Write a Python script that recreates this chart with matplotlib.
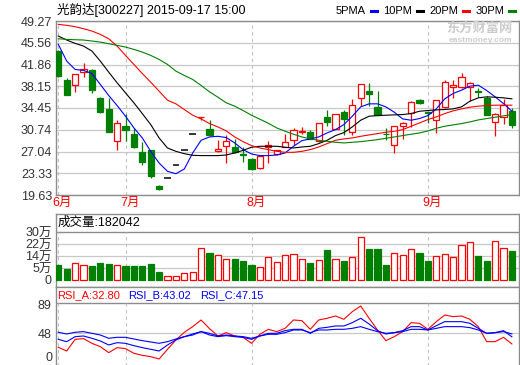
import numpy as np
import matplotlib
matplotlib.use("Agg")
import matplotlib.pyplot as plt
from matplotlib.lines import Line2D

plt.rcParams['font.family'] = ['Liberation Sans', 'Noto Sans CJK SC']

# ---- daily K-line data (2015-06-18 .. 2015-09-17) ----
opens = [44.15, 39.14, 38.34, 40.56, 40.85, 36.07, 34.36, 28.84, 31.45, 30.09,
         26.96, 27.36, 21.19, 22.52, 24.74, 27.30, 30.03, 32.90, 30.94, 27.07,
         28.04, 27.86, 26.55, 25.79, 24.23, 27.87, 26.62, 27.81, 29.01, 30.35,
         30.32, 28.78, 32.94, 30.89, 33.73, 30.32, 36.18, 37.37, 34.59, 30.05,
         28.10, 31.46, 33.62, 35.88, 33.75, 32.48, 34.59, 38.10, 37.99, 38.06,
         37.36, 36.07, 32.03, 32.88, 33.90]
highs = [44.30, 39.60, 40.30, 42.04, 41.02, 36.25, 36.07, 32.48, 33.45, 31.06,
         28.67, 27.36, 21.38, 22.52, 24.74, 27.30, 30.03, 32.94, 32.48, 29.07,
         29.92, 29.18, 27.76, 25.90, 26.50, 28.83, 27.36, 30.03, 31.06, 31.23,
         30.66, 31.90, 34.19, 33.45, 34.07, 35.90, 38.60, 38.63, 37.32, 31.06,
         31.34, 32.10, 35.60, 36.00, 33.90, 35.80, 39.14, 39.14, 40.33, 38.80,
         37.90, 36.46, 33.62, 36.01, 34.47]
lows = [39.80, 36.60, 37.15, 39.77, 37.03, 33.62, 30.30, 27.24, 28.78, 27.70,
        24.80, 22.52, 20.41, 22.52, 24.74, 27.30, 30.03, 32.37, 29.63, 27.00,
        25.08, 26.80, 25.19, 23.83, 24.00, 25.08, 26.50, 27.81, 28.21, 30.00,
        29.10, 28.70, 31.46, 30.80, 29.92, 29.92, 34.76, 34.87, 33.30, 29.06,
        26.79, 29.18, 31.23, 35.20, 31.91, 30.20, 34.50, 36.18, 37.90, 35.60,
        36.35, 33.30, 29.63, 31.80, 31.06]
closes = [39.88, 36.63, 40.28, 41.02, 37.49, 33.73, 30.32, 31.86, 30.77, 27.74,
          25.26, 22.81, 20.61, 22.52, 24.74, 27.30, 30.03, 32.94, 29.80, 27.47,
          28.78, 27.00, 26.45, 24.08, 26.34, 28.21, 27.30, 28.61, 30.77, 30.45,
          29.18, 31.85, 32.03, 33.39, 32.65, 34.93, 38.57, 36.92, 33.33, 29.98,
          31.34, 31.91, 35.44, 35.31, 33.62, 35.78, 38.91, 38.30, 39.71, 38.63,
          37.25, 33.33, 33.51, 34.93, 31.63]

ma5 = [45.29, 42.44, 41.02, 40.85, 40.33, 38.46, 36.58, 34.87, 33.05, 31.06,
       29.35, 27.07, 25.08, 23.66, 23.26, 24.06, 26.79, 28.95, 29.52, 29.63,
       29.41, 28.50, 27.36, 26.62, 26.34, 26.34, 26.45, 26.79, 27.93, 28.89,
       29.18, 29.52, 30.20, 30.77, 31.63, 33.05, 34.64, 35.16, 35.16, 34.64,
       33.73, 32.59, 32.37, 32.65, 33.16, 34.30, 36.01, 36.92, 37.49, 38.17,
       38.34, 37.43, 36.35, 35.21, 33.90]
ma10 = [46.71, 46.03, 45.46, 45.00, 44.15, 42.44, 40.56, 38.74, 37.03, 35.33,
        33.50, 31.63, 29.35, 27.64, 27.07, 26.67, 26.39, 26.34, 26.34, 26.34,
        26.45, 26.79, 27.24, 27.76, 27.93, 27.93, 27.93, 27.76, 27.64, 27.81,
        27.93, 28.38, 28.95, 29.75, 30.26, 31.23, 32.37, 33.05, 33.16, 33.22,
        33.28, 33.33, 33.50, 33.90, 34.02, 34.13, 34.19, 34.30, 34.64, 35.61,
        36.18, 36.35, 36.29, 36.18, 36.01]
ma20 = [48.70, 48.53, 48.30, 47.96, 47.56, 46.99, 46.25, 45.00, 43.41, 41.87,
        40.33, 38.85, 37.32, 35.78, 35.16, 34.19, 33.22, 32.59, 31.80, 31.23,
        30.54, 29.52, 28.72, 28.04, 27.64, 27.36, 27.07, 26.90, 26.90, 27.07,
        27.36, 27.81, 28.38, 28.95, 29.18, 29.35, 29.63, 29.86, 30.09, 30.32,
        30.49, 30.77, 31.34, 31.91, 32.48, 32.94, 33.50, 33.96, 34.30, 34.59,
        34.76, 34.87, 34.93, 34.93, 34.93]
ma30 = [46.25, 46.14, 46.08, 46.03, 45.86, 45.68, 45.40, 45.12, 44.83, 44.43,
        43.98, 43.41, 42.72, 41.87, 40.73, 39.99, 39.31, 38.29, 37.20, 36.29,
        35.33, 34.76, 34.02, 33.22, 32.54, 31.85, 31.06, 30.49, 29.98, 29.52,
        29.18, 28.95, 28.78, 28.61, 28.50, 28.61, 28.72, 28.89, 29.06, 29.29,
        29.52, 29.75, 29.98, 30.20, 30.54, 31.00, 31.34, 31.57, 31.80, 32.08,
        32.42, 32.65, 32.88, 33.11, 33.33]

# volume in 万 (10k)
volume = [9.4, 6.9, 10.4, 9.2, 8.75, 10.6, 10.0, 9.2, 8.75, 8.75,
          8.75, 10.0, 5.2, 2.7, 2.7, 4.2, 5.0, 19.8, 17.1, 15.4,
          12.9, 13.1, 11.9, 9.4, 8.1, 14.6, 11.0, 15.4, 16.0, 12.9,
          10.6, 12.3, 18.75, 12.9, 11.9, 14.2, 26.7, 19.4, 19.4, 9.4,
          16.9, 15.4, 19.2, 16.9, 11.9, 14.8, 16.0, 14.2, 21.7, 23.5,
          15.0, 11.9, 24.2, 19.8, 18.2042]

rsi_a = [28.05, 22.8, 39.45, 40.4, 33.75, 29.0, 20.45, 27.6, 26.15, 19.5,
         16.65, 14.75, 11.4, 25.2, 38.5, 49.4, 57.5, 67.0, 54.65, 44.2,
         48.95, 44.2, 42.3, 33.75, 46.6, 53.7, 50.4, 55.1, 67.0, 66.05,
         53.7, 67.0, 69.4, 72.7, 67.95, 78.9, 86.95, 69.4, 52.75, 37.55,
         43.25, 50.4, 63.2, 62.25, 53.7, 64.6, 74.1, 71.75, 72.7, 67.95,
         57.5, 36.1, 36.1, 42.3, 32.80]
rsi_b = [39.45, 36.1, 43.25, 44.2, 40.9, 37.1, 31.4, 34.7, 33.75, 30.4,
         27.6, 25.2, 22.8, 31.4, 38.5, 43.25, 45.6, 50.4, 45.6, 43.25,
         44.7, 43.25, 42.3, 39.45, 44.2, 48.0, 48.0, 51.8, 53.7, 53.7,
         48.0, 55.1, 56.55, 58.45, 58.45, 63.2, 69.4, 61.3, 51.8, 47.05,
         48.95, 51.8, 57.5, 57.5, 52.75, 58.9, 64.6, 64.6, 64.6, 62.25,
         55.1, 48.0, 48.95, 51.8, 43.02]
rsi_c = [49.45, 47.05, 49.45, 50.4, 48.0, 45.6, 40.9, 42.3, 42.3, 39.9,
         37.55, 35.65, 33.75, 36.1, 39.9, 43.25, 47.05, 50.4, 48.0, 44.2,
         45.6, 44.2, 43.25, 40.9, 44.2, 46.6, 46.6, 48.95, 52.75, 52.75,
         48.95, 52.75, 52.75, 53.7, 53.7, 55.1, 57.5, 53.7, 50.4, 48.0,
         48.95, 50.4, 53.7, 53.7, 52.75, 55.1, 57.5, 57.5, 57.5, 56.1,
         52.75, 48.0, 48.95, 50.4, 47.15]

price_ticks = [49.27, 45.56, 41.86, 38.15, 34.45, 30.74, 27.04, 23.33, 19.63]
month_pos = [0, 8, 23, 44]
month_labels = ['6月', '7月', '8月', '9月']
vol_ticks = [0, 7.5, 15, 22.5, 30]
vol_labels = ['0', '5万', '14万', '22万', '30万']
rsi_ticks = [48, 89]

RED, GREEN, BLUE = '#ff0000', '#008000', '#0000ff'
GRID, BORDER = '#c8c8c8', '#8c8c8c'

W, H = 520, 365
fig = plt.figure(figsize=(W / 100, H / 100), dpi=100)


def px_axes(left, top, right, bottom):
    return fig.add_axes([left / W, 1 - bottom / H, (right - left) / W, (bottom - top) / H])


def fy(y):
    # pixel row from the top -> figure fraction
    return 1 - y / H


def style(ax):
    ax.set_xlim(-0.274, 54.845)
    ax.set_xticks([])
    for s in ax.spines.values():
        s.set_color(BORDER)
        s.set_linewidth(1)
    ax.tick_params(axis='y', length=0, pad=3, labelsize=9, labelcolor='#333333')


x = np.arange(len(closes))
o, h, l, c = map(np.array, (opens, highs, lows, closes))
up = c > o
down = c < o
flat = c == o

# ---- price panel ----
ax = px_axes(56, 21, 519, 195)
style(ax)
ax.set_ylim(19.63, 49.27)
ax.set_yticks(price_ticks)
ax.set_yticklabels([f'{v:.2f}' for v in price_ticks])
for v in price_ticks:
    ax.axhline(v, color=GRID, lw=0.9, zorder=0)
for m in month_pos:
    ax.axvline(m, color='#c0c0c0', lw=0.8, ls=(0, (3, 3)), zorder=0)

ax.vlines(x[up], l[up], h[up], color=RED, lw=0.9, zorder=2)
ax.bar(x[up], c[up] - o[up], bottom=o[up], width=0.75, facecolor='white',
       edgecolor=RED, lw=0.9, zorder=3)
ax.vlines(x[down], l[down], h[down], color=GREEN, lw=0.9, zorder=2)
ax.bar(x[down], c[down] - o[down], bottom=o[down], width=0.75, facecolor=GREEN,
       edgecolor=GREEN, lw=0.9, zorder=3)
ax.hlines(c[flat], x[flat] - 0.4, x[flat] + 0.4, color='black', lw=1.1, zorder=3)

ax.plot(x, ma5, color=BLUE, lw=0.8, zorder=4)
ax.plot(x, ma10, color='black', lw=0.8, zorder=4)
ax.plot(x, ma20, color=RED, lw=0.8, zorder=4)
ax.plot(x, ma30, color=GREEN, lw=0.8, zorder=4)

for m, lab in zip(month_pos, month_labels):
    ax.text(m - 0.65, -0.046, lab, transform=ax.get_xaxis_transform(),
            color=RED, fontsize=9, ha='left', va='center')

# ---- volume panel ----
axv = px_axes(56, 214, 519, 287)
style(axv)
axv.set_ylim(-4.375, 41.25)
axv.set_yticks(vol_ticks)
axv.set_yticklabels(vol_labels)
for v in vol_ticks[1:-1]:
    axv.axhline(v, color=GRID, lw=0.9, zorder=0)
axv.axhline(30, color=BORDER, lw=1, zorder=0)
axv.vlines(month_pos, 0, 30, color='#c0c0c0', lw=0.8, ls=(0, (3, 3)), zorder=0)
vol = np.array(volume)
rise = c >= o
axv.bar(x[rise], vol[rise], width=0.75, facecolor='white', edgecolor=RED, lw=0.9, zorder=3)
axv.bar(x[~rise], vol[~rise], width=0.75, facecolor=GREEN, edgecolor=GREEN, lw=0.9, zorder=3)
axv.text(0.003, (287 - 223) / 73, f'成交量:{volume[-1] * 10000:.0f}', transform=axv.transAxes,
         fontsize=9, ha='left', va='center', color='black')

# ---- RSI panel ----
axr = px_axes(56, 287, 519, 367)
style(axr)
axr.set_ylim(0, 114)
axr.set_yticks(rsi_ticks)
axr.set_yticklabels([str(t) for t in rsi_ticks])
axr.axhline(91.2, color=BORDER, lw=1, zorder=0)
axr.axhline(48, color=GRID, lw=0.9, zorder=0)
axr.vlines(month_pos, 0, 91.2, color='#c0c0c0', lw=0.8, ls=(0, (3, 3)), zorder=0)
axr.plot(x, rsi_a, color=RED, lw=0.8)
axr.plot(x, rsi_b, color=BLUE, lw=0.8)
axr.plot(x, rsi_c, color=BLUE, lw=0.8)
# bottom label of the RSI scale sits on the lower edge of the picture
fig.text(53 / W, fy(358), '0', fontsize=9, color='#333333', ha='right', va='center')
for xp, txt, col in [(57, f'RSI_A:{rsi_a[-1]:.2f}', RED),
                     (128, f'RSI_B:{rsi_b[-1]:.2f}', BLUE),
                     (200, f'RSI_C:{rsi_c[-1]:.2f}', BLUE)]:
    fig.text(xp / W, fy(295), txt, color=col, fontsize=8, ha='left', va='center')

# ---- header ----
fig.text(57 / W, fy(10), '光韵达[300227] 2015-09-17 15:00', fontsize=9,
         ha='left', va='center')
for lab, x0, col in [('5PMA', 371, BLUE), ('10PM', 417, 'black'),
                     ('20PM', 463, RED), ('30PM', 509, GREEN)]:
    fig.text((x0 - 5) / W, fy(11), lab, fontsize=8, ha='right', va='center')
    fig.add_artist(Line2D([x0 / W, (x0 + 6) / W], [fy(11), fy(11)],
                          color=col, lw=2.2))

# watermark
fig.text(446 / W, fy(29), '东方财富网', fontsize=9.5, color='#cccccc',
         ha='left', va='center', fontweight='bold')
fig.text(449 / W, fy(41), 'eastmoney.com', fontsize=6, color='#cccccc',
         ha='left', va='center', fontweight='bold')

fig.savefig('out.png', dpi=100)
